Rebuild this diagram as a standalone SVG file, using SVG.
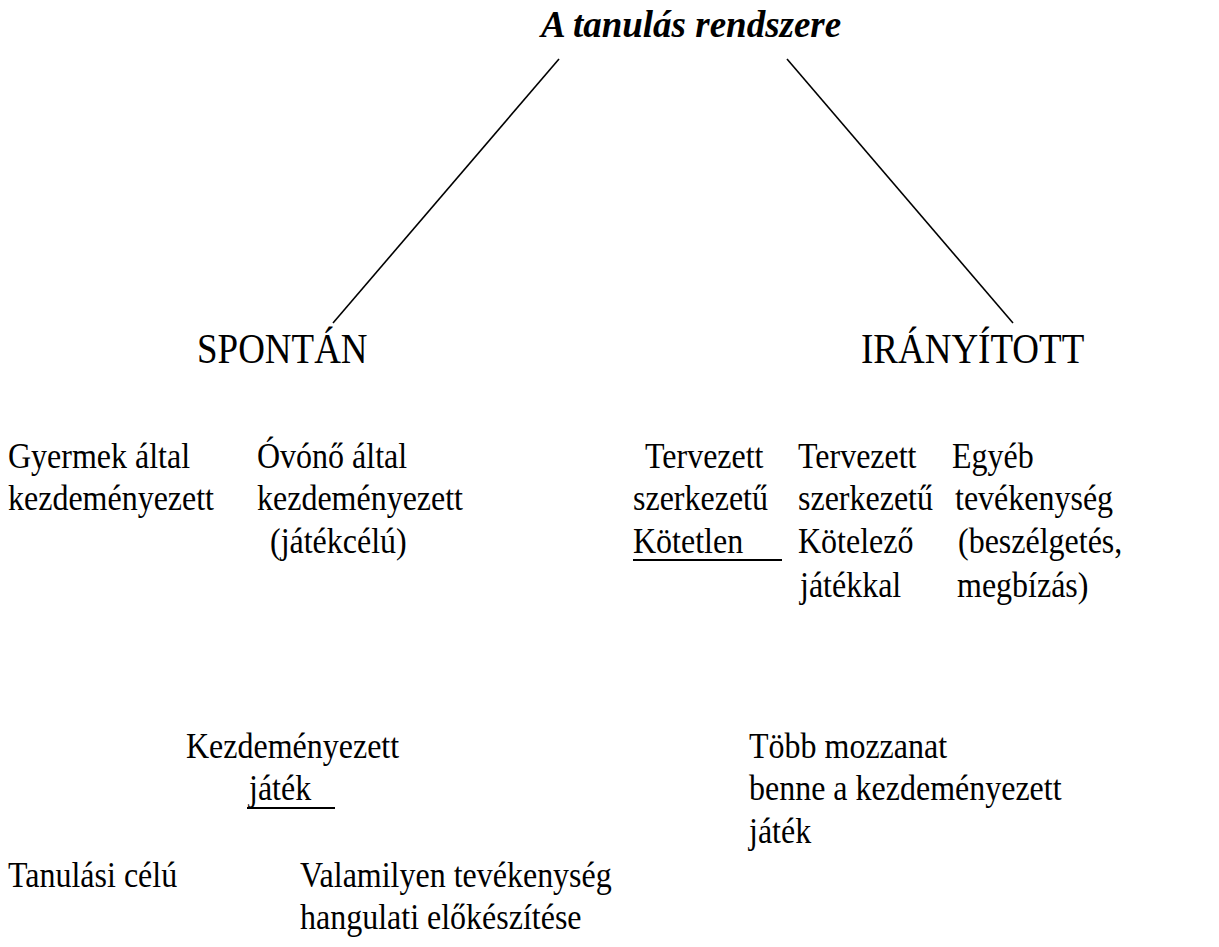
<svg xmlns="http://www.w3.org/2000/svg" width="1219" height="947" viewBox="0 0 1219 947">
<style>
text{font-family:'Liberation Serif','Times New Roman',serif;font-size:32px;fill:#000}
.title{font-weight:bold;font-style:italic;font-size:37px}
.cap{font-size:37px}
line{stroke:#000;stroke-width:1.6}
.ul{stroke-width:2}
</style>
<rect width="1219" height="947" fill="#fff"/>
<g id="title"><text class="title" x="541" y="37">A tanulás rendszere</text></g>
<g id="connectors">
<line x1="559" y1="59" x2="333" y2="323"/>
<line x1="787" y1="59" x2="1013" y2="323"/>
</g>
<g id="spontan"><text class="cap" transform="translate(197 363) scale(1 1.12)">SPONTÁN</text></g>
<g id="iranyitott"><text class="cap" transform="translate(861 363) scale(1 1.12)">IRÁNYÍTOTT</text></g>
<g id="gyermek"><text transform="translate(8 468) scale(1 1.15)">Gyermek által</text><text transform="translate(8 510) scale(1 1.15)">kezdeményezett</text></g>
<g id="ovono"><text transform="translate(257 468) scale(1 1.15)">Óvónő által</text><text transform="translate(257 510) scale(1 1.15)">kezdeményezett</text><text transform="translate(270 553) scale(1 1.15)">(játékcélú)</text></g>
<g id="kotetlen"><text transform="translate(645 468) scale(1 1.15)">Tervezett</text><text transform="translate(633 510) scale(1 1.15)">szerkezetű</text><text transform="translate(633 553) scale(1 1.15)">Kötetlen</text><line class="ul" x1="633" y1="560" x2="782" y2="560"/></g>
<g id="kotelezo"><text transform="translate(798 468) scale(1 1.15)">Tervezett</text><text transform="translate(798 510) scale(1 1.15)">szerkezetű</text><text transform="translate(798 553) scale(1 1.15)">Kötelező</text><text transform="translate(800 597) scale(1 1.15)">játékkal</text></g>
<g id="egyeb"><text transform="translate(952 468) scale(1 1.15)">Egyéb</text><text transform="translate(955 510) scale(1 1.15)">tevékenység</text><text transform="translate(958 553) scale(1 1.15)">(beszélgetés,</text><text transform="translate(957 597) scale(1 1.15)">megbízás)</text></g>
<g id="kezdemenyezett"><text transform="translate(186 758) scale(1 1.15)">Kezdeményezett</text><text transform="translate(249 800) scale(1 1.15)">játék</text><line class="ul" x1="247" y1="808" x2="335" y2="808"/></g>
<g id="tobb"><text transform="translate(749 758) scale(1 1.15)">Több mozzanat</text><text transform="translate(749 800) scale(1 1.15)">benne a kezdeményezett</text><text transform="translate(749 843) scale(1 1.15)">játék</text></g>
<g id="tanulasi"><text transform="translate(8 887) scale(1 1.15)">Tanulási célú</text></g>
<g id="valamilyen"><text transform="translate(300 887) scale(1 1.15)">Valamilyen tevékenység</text><text transform="translate(300 929) scale(1 1.15)">hangulati előkészítése</text></g>
</svg>
